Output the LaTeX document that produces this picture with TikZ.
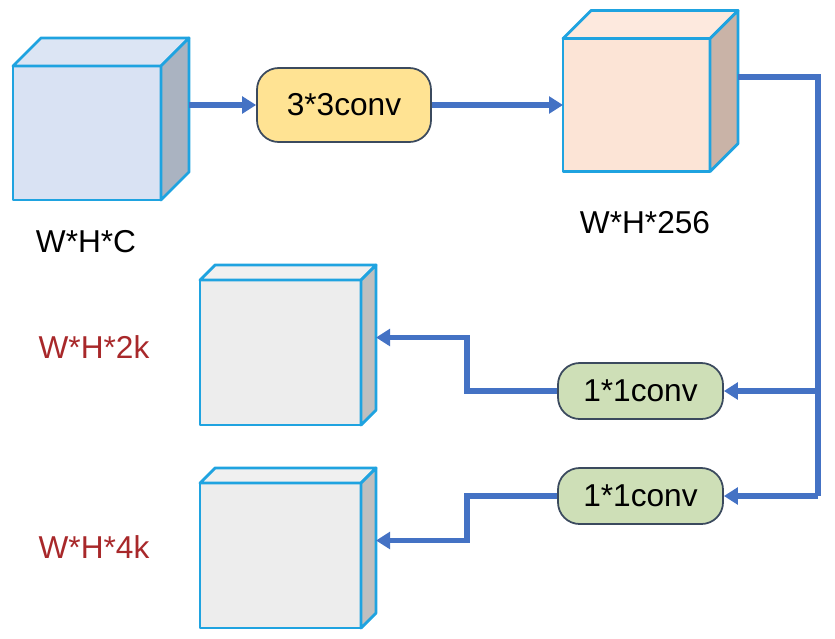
\documentclass[tikz,border=0pt]{standalone}
\usepackage{fontspec}
\setmainfont{Liberation Sans}
\usetikzlibrary{arrows.meta}

\definecolor{edgecyan}{HTML}{1FA3E0}
\definecolor{flowblue}{HTML}{4472C4}
\definecolor{boxline}{HTML}{3B4A5E}
\definecolor{labelred}{HTML}{A8282A}
\definecolor{bluefront}{HTML}{D9E2F3}
\definecolor{bluetop}{HTML}{DCE5F4}
\definecolor{blueside}{HTML}{AAB3C1}
\definecolor{peachfront}{HTML}{FCE4D6}
\definecolor{peachtop}{HTML}{FDE9DE}
\definecolor{peachside}{HTML}{C9B3A7}
\definecolor{grayfront}{HTML}{EDEDED}
\definecolor{graytop}{HTML}{F0F0F0}
\definecolor{grayside}{HTML}{BFBFBF}
\definecolor{convyellow}{HTML}{FFE393}
\definecolor{convgreen}{HTML}{CEDFB7}

\tikzset{
  cubeface/.style={draw=edgecyan, line width=2.4pt, line join=round},
  conv/.style={draw=boxline, line width=1.5pt, rounded corners=6.5mm, inner sep=0pt,
    font=\fontsize{27}{32}\selectfont},
  flow/.style={draw=flowblue, line width=4.4pt},
  flowarrow/.style={flow, -{Triangle[length=4.2mm, width=5mm]}},
  dimlabel/.style={font=\fontsize{27}{32}\selectfont}
}

% cube: name, front centre, width, height, depth, colour prefix
\newcommand{\featcube}[6]{%
  \node[cubeface, fill=#6front, minimum width=#3*0.3mm, minimum height=#4*0.3mm,
    inner sep=0pt, outer sep=0pt] (#1) at (#2) {};
  \draw[cubeface, fill=#6top] (#1.north west) -- ++(#5,-#5) -- ++(#3,0) -- (#1.north east) -- cycle;
  \draw[cubeface, fill=#6side] (#1.north east) -- ++(#5,-#5) -- ++(0,#4) -- (#1.south east) -- cycle;
  \coordinate (#1-r) at ([shift={(#5,-#5)}]#1.east);
}

\begin{document}
\begin{tikzpicture}[x=0.3mm, y=-0.3mm]
				\useasboundingbox (0,0) rectangle (835,638);
				
				% Feature cubes
				\featcube{inmap}{87,133}{148}{134}{28}{blue}
				\featcube{feat}{636.5,105}{147}{133}{28}{peach}
				\featcube{clsmap}{280.5,352.5}{161}{145}{15}{gray}
				\featcube{regmap}{280.5,555.5}{161}{145}{15}{gray}
				
				% Convolutions
				\node[conv, fill=convyellow, minimum width=174*0.3mm, minimum height=74*0.3mm] (conv3) at (344,105) {3*3conv};
				\node[conv, fill=convgreen, minimum width=165*0.3mm, minimum height=56*0.3mm] (cls) at (640.5,391) {1*1conv};
				\node[conv, fill=convgreen, minimum width=165*0.3mm, minimum height=56*0.3mm] (reg) at (640.5,496) {1*1conv};
				
				% Sizes
				\node[dimlabel] (inlab) at (86,242) {W*H*C};
				\node[dimlabel] (featlab) at (645,223) {W*H*256};
				\node[dimlabel, text=labelred] (clslab) at (94,347) {W*H*2k};
				\node[dimlabel, text=labelred] (reglab) at (94,547) {W*H*4k};
				
				% Bends
				\coordinate (b1) at (818,391);
				\coordinate (b2) at (818,496);
				\coordinate (k1) at (467,337.5);
				\coordinate (k2) at (467,540.5);
				
				% Connections
				\draw[flowarrow] (inmap-r) -- (conv3.west);
				\draw[flowarrow] (conv3.east) -- (feat.west);
				\draw[flow] (feat-r) -| (b2);
				\draw[flowarrow] (b1) -- (cls.east);
				\draw[flowarrow] (b2) -- (reg.east);
				\draw[flowarrow] (cls.west) -| (k1) -- (clsmap-r);
				\draw[flowarrow] (reg.west) -| (k2) -- (regmap-r);
			\end{tikzpicture}
\end{document}
